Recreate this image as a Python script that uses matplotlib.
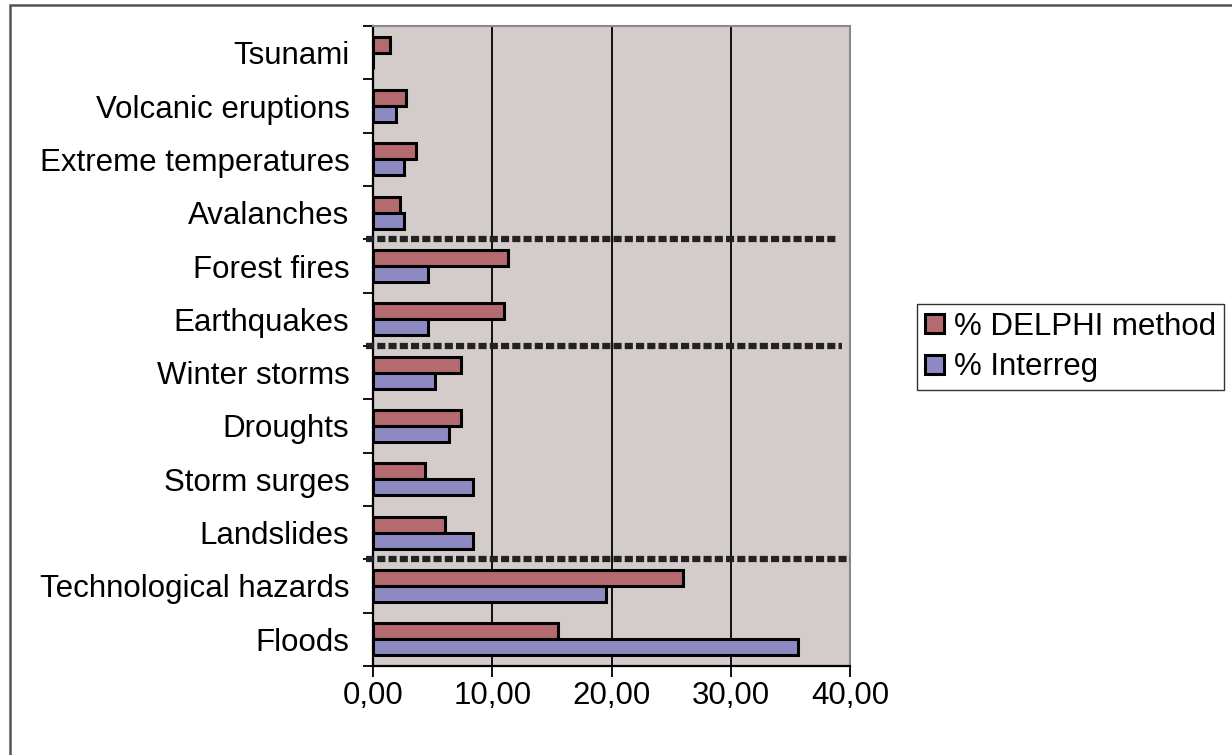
import matplotlib
matplotlib.use("Agg")
from matplotlib import pyplot as plt
from matplotlib.patches import Rectangle
import numpy as np

plt.rcParams['font.family'] = ['Liberation Sans', 'DejaVu Sans']

# categories from bottom to top
hazards = ['Floods', 'Technological hazards', 'Landslides', 'Storm surges',
           'Droughts', 'Winter storms', 'Earthquakes', 'Forest fires',
           'Avalanches', 'Extreme temperatures', 'Volcanic eruptions', 'Tsunami']
delphi = [15.5, 26.0, 6.0, 4.4, 7.4, 7.4, 11.0, 11.3, 2.3, 3.6, 2.8, 1.4]
interreg = [35.6, 19.5, 8.4, 8.4, 6.4, 5.2, 4.6, 4.6, 2.6, 2.6, 1.9, 0.0]
# group separators sit just above these category indices
separators_after = [1, 5, 7]
sep_ends = [40.0, 39.3, 39.0]
x_ticks = [0, 10, 20, 30, 40]
x_tick_labels = ['0,00', '10,00', '20,00', '30,00', '40,00']

c_delphi = '#b36b70'
c_interreg = '#8d89c3'
fs = 22.5

fig = plt.figure(figsize=(12.32, 7.55), dpi=100)
ax = fig.add_axes([373 / 1232, 1 - 666 / 755, 477 / 1232, 640 / 755])
ax.set_facecolor('#d4cccb')

y = np.arange(len(hazards))
h = 0.3
ax.barh(y + h / 2, delphi, height=h, color=c_delphi, edgecolor='black',
        linewidth=2.2, label='% DELPHI method', zorder=3)
ax.barh(y - h / 2, interreg, height=h, color=c_interreg, edgecolor='black',
        linewidth=2.2, label='% Interreg', zorder=3)

ax.set_xlim(0, 40)
ax.set_ylim(-0.5, len(hazards) - 0.5)
ax.set_xticks(x_ticks)
ax.set_xticklabels(x_tick_labels, fontsize=fs)
ax.set_yticks(y)
ax.set_yticklabels(hazards, fontsize=fs)
ax.set_yticks(np.arange(len(hazards) + 1) - 0.5, minor=True)
ax.tick_params(axis='y', which='major', length=0, pad=17)
ax.tick_params(axis='y', which='minor', length=7, width=1.3, color='black')
ax.tick_params(axis='x', length=8, width=1.3, pad=3)

ax.grid(axis='x', color='black', linewidth=1.3, zorder=1)
for s in ['top', 'right']:
    ax.spines[s].set_color('#8a8a8a')
    ax.spines[s].set_linewidth(1.5)
for s in ['left', 'bottom']:
    ax.spines[s].set_color('black')
    ax.spines[s].set_linewidth(1.6)

for i, xe in zip(separators_after, sep_ends):
    ax.plot([-0.55, xe], [i + 0.5, i + 0.5], color='#222222', linewidth=4.5,
            linestyle=(0, (1.3, 0.5)), clip_on=False, zorder=4)

leg = ax.legend(loc='center left', bbox_to_anchor=(917 / 1232, 1 - 347 / 755),
                bbox_transform=fig.transFigure, fontsize=fs, frameon=True,
                fancybox=False, edgecolor='black', borderpad=0.25,
                handlelength=0.6, handleheight=0.6, handletextpad=0.35,
                labelspacing=0.35, borderaxespad=0)
leg.get_frame().set_linewidth(1.0)

fig.patches.append(Rectangle((9.5 / 1232, -0.05), 1.2, 1 - 4.7 / 755 + 0.05,
                             transform=fig.transFigure, fill=False,
                             edgecolor='#555555', linewidth=1.8))

fig.savefig('out.png', dpi=100, facecolor='white')
